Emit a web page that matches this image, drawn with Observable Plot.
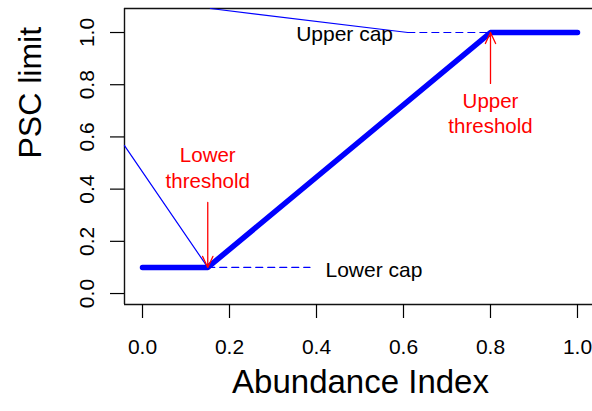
<!DOCTYPE html>
<html>
<head>
<meta charset="utf-8">
<script src="https://cdn.jsdelivr.net/npm/d3@7"></script>
<script src="https://cdn.jsdelivr.net/npm/@observablehq/plot@0.6"></script>
<style>
  html, body { margin: 0; padding: 0; background: white; }
</style>
</head>
<body>
<div id="chart"></div>
<script>
// ---- data ----
const xTicks = [0, 0.2, 0.4, 0.6, 0.8, 1.0];
const yTicks = [0, 0.2, 0.4, 0.6, 0.8, 1.0];
const xDomain = [-0.0414, 1.0345];
const yDomain = [-0.042, 1.092];

// PSC limit curve
const abundance = [0, 0.15, 0.8, 1.0];
const pscLimit = [0.1, 0.1, 1.0, 1.0];

// cap dashed lines
const lowerCapX = [0.15, 0.385];
const lowerCapY = [0.1, 0.1];
const upperCapX = [0.61, 0.8];
const upperCapY = [1.0, 1.0];

// thin leader lines
const lowerLeaderX = [-0.0414, 0.15];
const lowerLeaderY = [0.567, 0.1];
const upperLeaderX = [0.156, 0.61];
const upperLeaderY = [1.092, 1.0];

// threshold arrows
const arrowX = [0.15, 0.8];
const arrowFromY = [0.349, 0.805];
const arrowToY = [0.1, 1.0];

// annotation labels
const redLabels = ["Lower\nthreshold", "Upper\nthreshold"];
const redLabelX = [0.15, 0.8];
const redLabelY = [0.485, 0.695];
const capLabels = ["Lower cap", "Upper cap"];
const capLabelX = [0.4207, 0.5759];
const capLabelY = [0.1, 1.0];

const toPts = (xs, ys) => xs.map((x, i) => ({x, y: ys[i]}));
const curve = toPts(abundance, pscLimit);
const arrows = arrowX.map((x, i) => ({x, y1: arrowFromY[i], y2: arrowToY[i]}));
const reds = redLabels.map((t, i) => ({t, x: redLabelX[i], y: redLabelY[i]}));

const blue = "#0000FF";
const red = "#FF0000";

const chart = Plot.plot({
  width: 592,
  height: 411,
  marginLeft: 124,
  marginRight: 0,
  marginTop: 8,
  marginBottom: 107,
  x: {domain: xDomain},
  y: {domain: yDomain},
  style: {fontFamily: "'Liberation Sans', Arial, sans-serif", background: "white", color: "black"},
  marks: [
    // box (left, top, bottom)
    Plot.ruleX([xDomain[0]], {stroke: "#111", strokeWidth: 1.4}),
    Plot.ruleY([yDomain[0], yDomain[1]], {stroke: "#111", strokeWidth: 1.4}),
    Plot.axisX({ticks: xTicks, tickSize: 14, tickPadding: 21, tickFormat: d => d.toFixed(1), fontSize: 21, label: null, strokeWidth: 1.2}),
    Plot.axisY({ticks: yTicks, tickSize: 14, tickPadding: 17, tickRotate: -90, tickFormat: d => d.toFixed(1), fontSize: 21, label: null, strokeWidth: 1.2}),
    // axis titles
    Plot.text(["Abundance Index"], {frameAnchor: "bottom", dx: 2, dy: 88.5, fontSize: 33, fill: "black"}),
    Plot.text(["PSC limit"], {frameAnchor: "left", rotate: -90, dx: -94, dy: 2, fontSize: 32, fill: "black"}),
    // leader lines
    Plot.line(toPts(lowerLeaderX, lowerLeaderY), {x: "x", y: "y", stroke: blue, strokeWidth: 1.2}),
    Plot.line(toPts(upperLeaderX, upperLeaderY), {x: "x", y: "y", stroke: blue, strokeWidth: 1.2}),
    // cap dashed lines
    Plot.line(toPts(lowerCapX, lowerCapY), {x: "x", y: "y", stroke: blue, strokeWidth: 1.2, strokeDasharray: "7,5"}),
    Plot.line(toPts(upperCapX, upperCapY), {x: "x", y: "y", stroke: blue, strokeWidth: 1.2, strokeDasharray: "7,5"}),
    // main curve
    Plot.line(curve, {x: "x", y: "y", stroke: blue, strokeWidth: 5.5, strokeLinecap: "round", strokeLinejoin: "round"}),
    // arrows
    Plot.arrow(arrows, {x1: "x", x2: "x", y1: "y1", y2: "y2", stroke: red, strokeWidth: 1.3, headLength: 14, headAngle: 50}),
    // labels
    Plot.text(reds, {x: "x", y: "y", text: "t", fill: red, fontSize: 20.5, lineHeight: 1.25}),
    Plot.text([0], {x: () => capLabelX[0], y: () => capLabelY[0], text: () => capLabels[0], textAnchor: "start", dy: 3, fontSize: 21, fill: "black"}),
    Plot.text([0], {x: () => capLabelX[1], y: () => capLabelY[1], text: () => capLabels[1], textAnchor: "end", dy: 1.5, fontSize: 21, fill: "black"})
  ]
});
document.getElementById("chart").appendChild(chart);
</script>
</body>
</html>
